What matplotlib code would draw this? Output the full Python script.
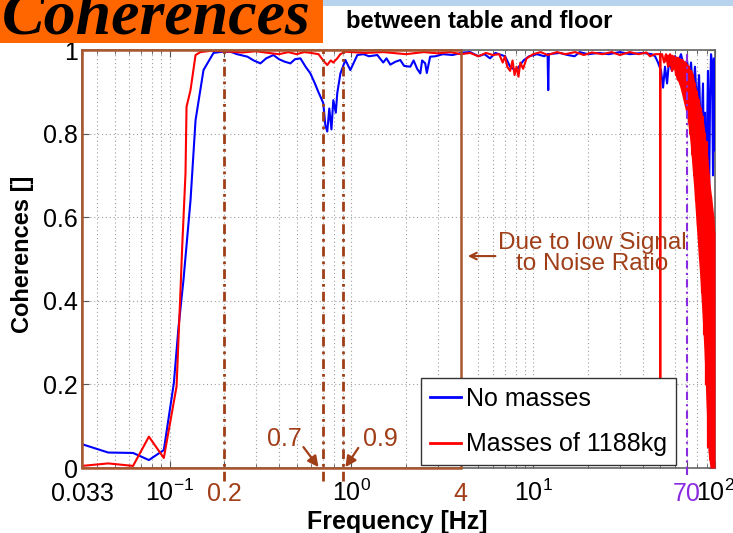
import matplotlib.pyplot as plt
from matplotlib.patches import Rectangle
from matplotlib.ticker import NullFormatter

plt.rcParams['font.family'] = ['Liberation Sans', 'DejaVu Sans']
plt.rcParams['mathtext.default'] = 'regular'

# ==== Data ====
freq_nomass = [0.033, 0.046, 0.063, 0.077, 0.093, 0.1056, 0.1121, 0.1193, 0.1304, 0.139,
               0.1537, 0.1745, 0.1954, 0.2163, 0.235, 0.2683, 0.29, 0.3161, 0.34, 0.3726,
               0.40, 0.43, 0.462, 0.49, 0.5245, 0.56, 0.5953, 0.63, 0.6579, 0.7006,
               0.7193, 0.7369, 0.7561, 0.7771, 0.7956, 0.8211, 0.8366, 0.8706, 0.9272, 0.987,
               1.079, 1.166, 1.25, 1.389, 1.497, 1.56, 1.637, 1.75, 1.858, 1.95,
               2.109, 2.2, 2.3, 2.394, 2.45, 2.548, 2.6, 2.712, 2.9, 3.188,
               3.6, 4.12, 4.5, 5.0, 5.4, 5.79, 6.2, 7.0, 7.47, 8.05,
               8.5, 8.85, 9.5, 10.5, 11.5, 12.0, 12.1, 12.2, 14.0, 15.5,
               16.9, 18.0, 20.0, 23.0, 26.0, 30.0, 34.0, 40.0, 45.0,
               46.8, 48.6, 50.5, 51.8, 53.1, 54.5, 55.9, 58.0, 60.3, 62.6,
               65.0, 67.5, 70.2, 72.0, 73.8, 75.7, 77.6, 79.6, 81.7, 83.8,
               85.9, 87.0, 88.1, 89.2, 90.4, 91.5, 92.7, 93.9, 95.1, 96.3,
               97.5, 98.7, 100.0]
coh_nomass = [0.057, 0.037, 0.036, 0.019, 0.043, 0.203, 0.338, 0.45, 0.64, 0.832,
              0.952, 0.993, 0.996, 0.996, 0.99, 0.984, 0.975, 0.968, 0.98, 0.988,
              0.978, 0.972, 0.968, 0.978, 0.98, 0.96, 0.944, 0.92, 0.90, 0.873,
              0.82, 0.805, 0.86, 0.81, 0.88, 0.85, 0.897, 0.944, 0.976, 0.952,
              0.988, 0.99, 0.985, 0.988, 0.97, 0.98, 0.965, 0.972, 0.976, 0.962,
              0.96, 0.975, 0.955, 0.944, 0.975, 0.968, 0.945, 0.984, 0.985, 0.99,
              0.988, 0.994, 0.995, 0.985, 0.99, 0.98, 0.993, 0.985, 0.96, 0.95,
              0.965, 0.975, 0.985, 0.99, 0.985, 0.99, 0.904, 0.99, 0.993, 0.988,
              0.985, 0.995, 0.99, 0.993, 0.99, 0.995, 0.99, 0.993, 0.99,
              0.985, 0.97, 0.95, 0.91, 0.96, 0.92, 0.975, 0.95, 0.985, 0.97,
              0.99, 0.96, 0.975, 0.93, 0.97, 0.90, 0.96, 0.86, 0.94, 0.78,
              0.92, 0.70, 0.85, 0.60, 0.80, 0.95, 0.62, 0.88, 0.99, 0.97,
              0.70, 0.98, 0.76]

freq_mass = [0.033, 0.046, 0.063, 0.077, 0.093, 0.1093, 0.1149, 0.1174, 0.1224, 0.124,
             0.1304, 0.139, 0.148, 0.1679, 0.2, 0.25, 0.3, 0.35, 0.4, 0.45,
             0.5, 0.55, 0.6, 0.66, 0.70, 0.7369, 0.77, 0.7956, 0.8366, 0.87,
             0.93, 1.0, 1.2, 1.5, 2.0, 2.5, 3.0, 3.5, 4.0, 4.5,
             5.0, 5.5, 6.0, 6.5, 6.8, 7.0, 7.2, 7.47, 7.7, 7.9,
             8.1, 8.3, 8.5, 8.8, 9.2, 10.0, 11.0, 12.0, 13.5, 15.0,
             17.0, 19.0, 21.0, 24.0, 27.0, 30.0, 34.0, 38.0, 42.0, 43.9,
             46.8, 49.9, 50.0, 50.1, 51.2, 52.5, 53.8, 55.2, 56.6, 58.0,
             59.5, 61.0, 62.6, 64.2, 65.8, 67.5, 69.3, 71.1, 72.0, 72.9,
             73.8, 74.8, 75.7, 76.7, 77.6, 78.6, 79.6, 80.6, 81.7, 82.7,
             83.8, 84.8, 85.9, 87.0, 88.1, 89.2, 90.4, 91.5, 92.7, 93.9,
             95.1, 96.3, 97.5, 98.7, 100.0]
coh_mass = [0.005, 0.011, 0.005, 0.075, 0.024, 0.195, 0.426, 0.53, 0.705, 0.864,
            0.904, 0.988, 0.995, 0.998, 0.997, 0.994, 0.997, 0.993, 0.99, 0.995,
            0.99, 0.995, 0.993, 0.99, 0.975, 0.964, 0.975, 0.97, 0.98, 0.99,
            0.996, 0.995, 0.993, 0.995, 0.99, 0.995, 0.992, 0.995, 0.99, 0.993,
            0.985, 0.993, 0.988, 0.99, 0.97, 0.985, 0.96, 0.95, 0.975, 0.94,
            0.96, 0.936, 0.97, 0.955, 0.98, 0.99, 0.995, 0.988, 0.995, 0.99,
            0.995, 0.988, 0.994, 0.99, 0.995, 0.988, 0.995, 0.99, 0.994, 0.985,
            0.99, 0.99, 0.01, 0.99, 0.99, 0.97, 0.99, 0.96, 0.99, 0.95,
            0.985, 0.94, 0.98, 0.92, 0.975, 0.89, 0.97, 0.85, 0.96, 0.80,
            0.95, 0.75, 0.94, 0.70, 0.92, 0.64, 0.90, 0.58, 0.88, 0.50,
            0.86, 0.42, 0.84, 0.32, 0.80, 0.20, 0.78, 0.05, 0.70, 0.02,
            0.65, 0.0, 0.60, 0.0, 0.55]

# envelope of the dense, noisy red trace above ~50 Hz
band_freq = [52.5, 53.8, 55.2, 56.6, 58.0, 59.5, 61.1, 62.6, 64.2, 65.9,
             67.5, 69.3, 71.1, 72.9, 74.8, 76.7, 78.6, 80.6, 82.7, 84.8,
             87.0, 89.2, 91.5, 93.9, 96.3, 98.7, 100.0]
band_upper = [0.99, 0.99, 0.99, 0.99, 0.99, 0.985, 0.985, 0.985, 0.98, 0.98,
              0.975, 0.97, 0.965, 0.955, 0.95, 0.93, 0.91, 0.89, 0.87, 0.85,
              0.82, 0.78, 0.74, 0.68, 0.64, 0.60, 0.56]
band_lower = [0.97, 0.975, 0.96, 0.965, 0.95, 0.955, 0.93, 0.925, 0.91, 0.89,
              0.87, 0.85, 0.82, 0.78, 0.72, 0.66, 0.59, 0.52, 0.45, 0.37,
              0.28, 0.16, 0.04, 0.0, 0.0, 0.0, 0.0]

tick_pos = [0.033, 0.1, 0.2, 1, 4, 10, 70, 100]
tick_lbl = ['0.033', '$10^{-1}$', '0.2', '$10^{0}$', '4', '$10^{1}$', '70', '$10^{2}$']
ytick_pos = [0, 0.2, 0.4, 0.6, 0.8, 1]
ytick_lbl = ['0', '0.2', '0.4', '0.6', '0.8', '1']
marked_freqs = [0.2, 0.7, 0.9]
snr_limit = 4
cutoff = 70

# ==== Colours ====
BROWN = '#A03E18'
BOX = '#A9572E'
PURPLE = '#8A2BE2'
tick_col = ['black', 'black', BROWN, 'black', BROWN, 'black', PURPLE, 'black']

fig = plt.figure(figsize=(7.33, 5.33), dpi=100)

# ==== Slide header ====
fig.add_artist(Rectangle((0, 1 - 43/533), 323/733, 43/533, transform=fig.transFigure,
                         facecolor='#FF6600', edgecolor='none'))
fig.add_artist(Rectangle((323/733, 1 - 6/533), 410/733, 6/533, transform=fig.transFigure,
                         facecolor='#B8D3EE', edgecolor='none'))
fig.text(2/733, 1 - 33/533, 'Coherences', family='Liberation Serif', fontsize=46,
         weight='bold', style='italic', va='baseline', ha='left')
fig.text(346/733, 1 - 21/533, 'between table and floor', fontsize=17.2, weight='bold',
         va='center', ha='left')

# ==== Plot ====
ax = fig.add_axes([82/733, 65/533, 633/733, 418/533])
ax.plot(freq_nomass, coh_nomass, color='#0000FF', lw=1.5, label='No masses', zorder=3)
ax.plot(freq_mass, coh_mass, color='#FF0000', lw=1.5, label='Masses of 1188kg', zorder=3)
ax.fill_between(band_freq, band_lower, band_upper, color='#FF0000', lw=0, zorder=3)

ax.set_xscale('log')
ax.set_xlim(0.033, 100)
ax.set_ylim(0, 1)
ax.set_xticks(tick_pos)
ax.set_xticklabels(tick_lbl)
ax.xaxis.set_minor_formatter(NullFormatter())
ax.set_yticks(ytick_pos)
ax.set_yticklabels(ytick_lbl)
ax.tick_params(which='both', direction='in', top=True, right=True, color='#555555')
ax.tick_params(which='major', length=5)
ax.tick_params(which='minor', length=3)
ax.tick_params(axis='x', labelsize=18, pad=24)
ax.tick_params(axis='y', labelsize=18, pad=3)
for lbl, c in zip(ax.get_xticklabels(), tick_col):
    lbl.set_color(c)
    lbl.set_va('baseline')

ax.grid(True, which='major', ls=(0, (1, 2.5)), color='#a0a0a0', lw=0.8)
ax.grid(True, which='minor', axis='x', ls=(0, (1, 2.5)), color='#a0a0a0', lw=0.8)
for sp in ax.spines.values():
    sp.set_color('#666666')
    sp.set_linewidth(1.2)

# marked frequencies and limits
for f in marked_freqs:
    ax.axvline(f, ymin=-0.03, ymax=1, color=BROWN, lw=2, ls='-.', dashes=(3.5, 1.8, 1, 1.8),
               clip_on=False, zorder=4)
ax.axvline(cutoff, ymin=-0.017, ymax=1, color=PURPLE, lw=1.5, ls='-.', dashes=(4, 2, 1, 2),
           clip_on=False, zorder=4)
ax.add_patch(Rectangle((0.033, 0), snr_limit - 0.033, 1, fill=False, edgecolor=BOX, lw=1.8,
                       clip_on=False, zorder=4))

arrow_kw = dict(arrowstyle='-|>', color=BROWN, lw=1.6, mutation_scale=16, shrinkA=0, shrinkB=0)
ax.text(0.4286, 0.069, '0.7', color=BROWN, fontsize=18, ha='center', va='center')
ax.annotate('', xy=(0.66, 0.002), xytext=(0.545, 0.05), arrowprops=arrow_kw)
ax.text(1.445, 0.069, '0.9', color=BROWN, fontsize=18, ha='center', va='center')
ax.annotate('', xy=(0.928, 0.002), xytext=(1.092, 0.048), arrowprops=arrow_kw)

ax.text(21.1, 0.514, 'Due to low Signal\nto Noise Ratio', color=BROWN, fontsize=17.5,
        ha='center', va='center', linespacing=0.95, zorder=6)
ax.annotate('', xy=(4.37, 0.507), xytext=(6.2, 0.507),
            arrowprops=dict(arrowstyle='->', color=BROWN, lw=1.5, mutation_scale=12,
                            shrinkA=0, shrinkB=0))

ax.set_xlabel('Frequency [Hz]', fontsize=18, weight='bold')
ax.xaxis.set_label_coords(0.498, -0.1)
ax.set_ylabel('Coherences []', fontsize=17, weight='bold')
ax.yaxis.set_label_coords(-0.076, 0.512)

leg = ax.legend(loc='lower left', bbox_to_anchor=(0.5355, 0.007), fontsize=18, frameon=True,
                fancybox=False, edgecolor='#333333', framealpha=1, borderpad=0.35,
                handlelength=1.25, handletextpad=0.2, labelspacing=0.85, borderaxespad=0)
leg.set_zorder(7)
leg.get_frame().set_linewidth(1.0)
for ln in leg.get_lines():
    ln.set_linewidth(2)

fig.savefig('out.png', dpi=100)
